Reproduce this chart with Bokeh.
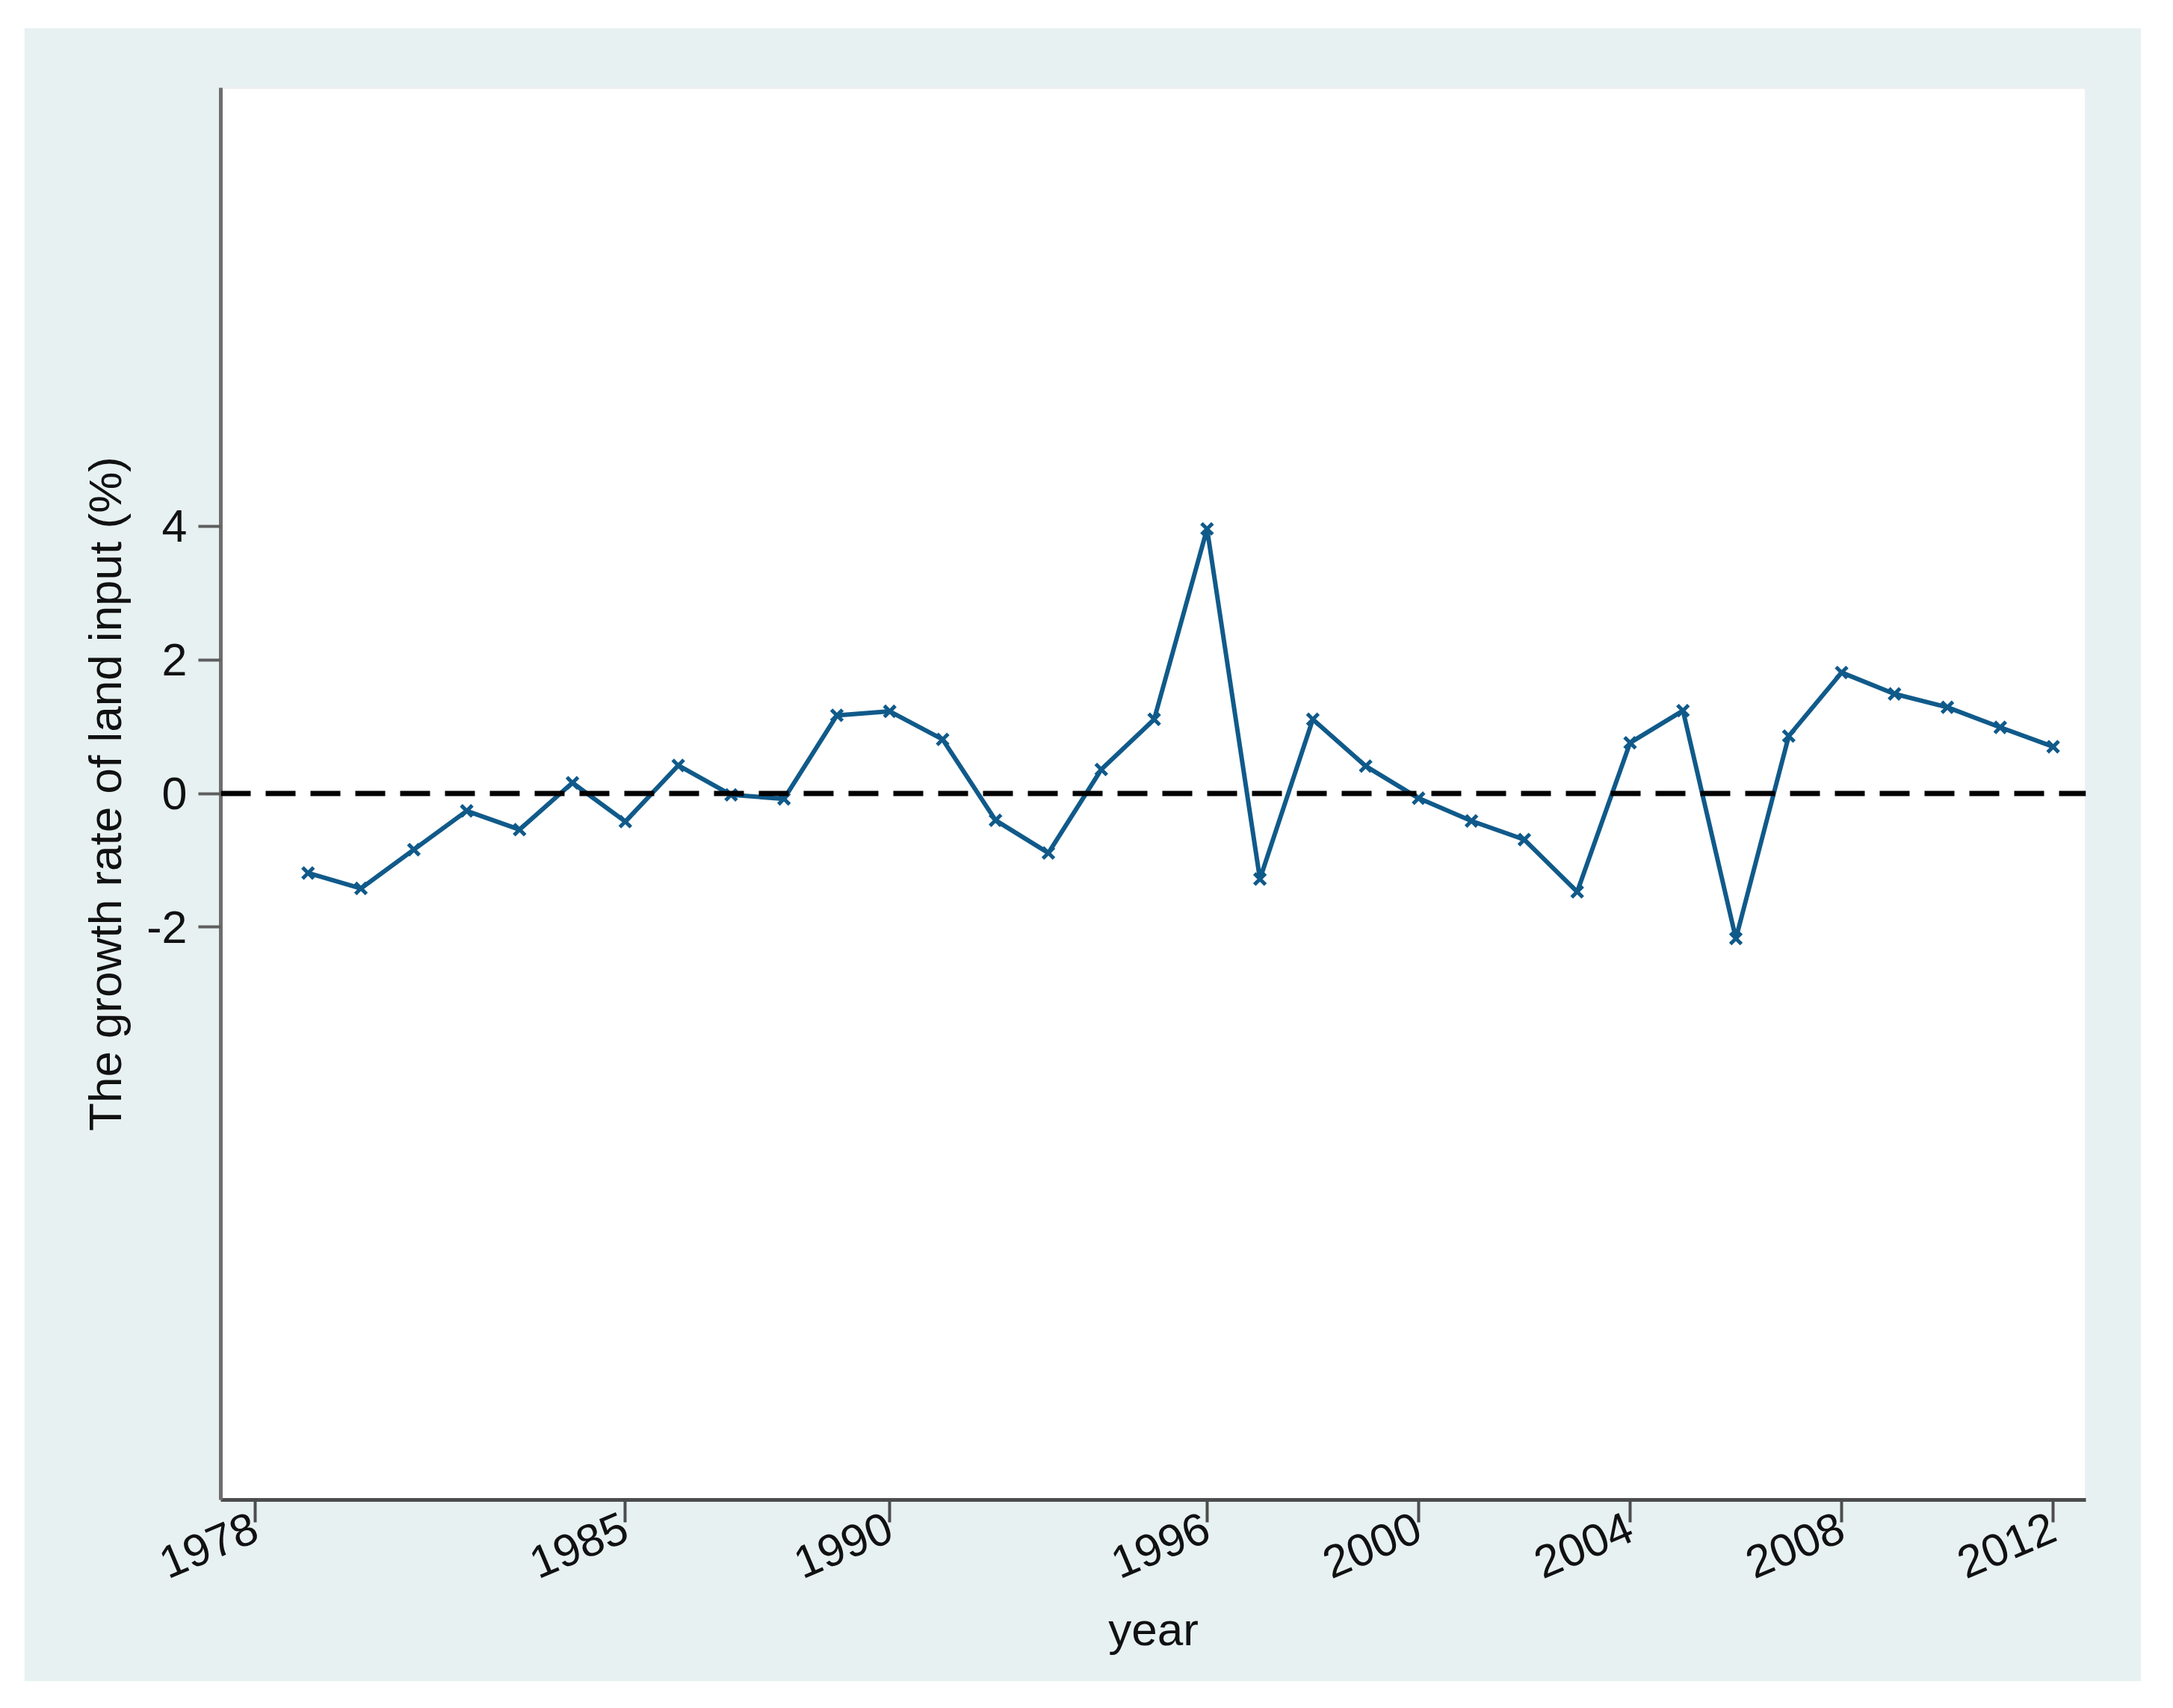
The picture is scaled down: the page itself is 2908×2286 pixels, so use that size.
import math
from bokeh.plotting import figure
from bokeh.models import Range1d, Span, FixedTicker
from bokeh.embed import file_html
from bokeh.resources import INLINE

years = list(range(1979, 2013))
growth = [-1.19, -1.42, -0.84, -0.26, -0.54, 0.16, -0.42, 0.42, -0.02, -0.08,
          1.17, 1.23, 0.81, -0.40, -0.89, 0.36, 1.11, 3.96, -1.28, 1.11,
          0.41, -0.07, -0.41, -0.69, -1.47, 0.76, 1.24, -2.17, 0.86, 1.81,
          1.49, 1.29, 0.99, 0.70]
x_ticks = [1978, 1985, 1990, 1996, 2000, 2004, 2008, 2012]
y_ticks = [-2, 0, 2, 4]
y_tick_labels = {-2: "-2", 0: "0", 2: "2", 4: "4"}

FONT = "Liberation Sans"
LINE = "#105a8a"

p = figure(width=2833, height=2213, output_backend="svg", toolbar_location=None,
           x_range=Range1d(1977.35, 2012.62), y_range=Range1d(-10.57, 10.56),
           min_border_left=263, min_border_right=74, min_border_top=80,
           min_border_bottom=243)
p.margin = (37, 0, 0, 32)
p.background_fill_color = "white"
p.border_fill_color = "#e7f1f2"
p.outline_line_color = "#eceff3"
p.outline_line_width = 3
p.xgrid.visible = False
p.ygrid.visible = False

p.add_layout(Span(location=0, dimension="width", line_color="black",
                  line_width=7, line_dash="40 20"))

p.line(years, growth, line_color=LINE, line_width=6)
p.scatter(years, growth, marker="x", size=21, line_color=LINE, line_width=5)

for ax in (p.xaxis[0], p.yaxis[0]):
    ax.major_tick_out = 30
    ax.major_tick_in = 0
    ax.minor_tick_out = 0
    ax.minor_tick_in = 0
    ax.major_tick_line_width = 4
    ax.axis_line_width = 5
    ax.major_label_text_font = FONT
    ax.major_label_text_font_size = "61px"
    ax.major_label_text_color = "#111111"
    ax.axis_label_text_font = FONT
    ax.axis_label_text_font_size = "62px"
    ax.axis_label_text_font_style = "normal"
    ax.axis_label_text_color = "#111111"

p.xaxis.ticker = FixedTicker(ticks=x_ticks)
p.yaxis.ticker = FixedTicker(ticks=y_ticks)
p.yaxis.major_label_overrides = y_tick_labels
p.xaxis.axis_label = "year"
p.yaxis.axis_label = "The growth rate of land input (%)"
p.xaxis.major_label_orientation = math.radians(23)
p.yaxis.major_label_orientation = "horizontal"
p.xaxis.axis_line_color = "#4d4d4d"
p.xaxis.major_tick_line_color = "#4d4d4d"
p.yaxis.axis_line_color = "#6e6e6e"
p.yaxis.major_tick_line_color = "#5e5e5e"
p.yaxis.major_label_standoff = 15
p.yaxis.axis_label_standoff = 18
p.xaxis.major_label_standoff = 4
p.xaxis.axis_label_standoff = 10

open("out.html", "w").write(file_html(p, INLINE))
